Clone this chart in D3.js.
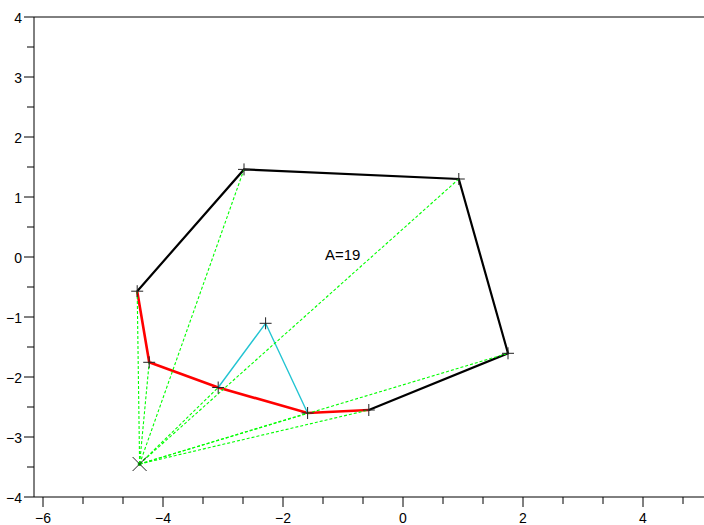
<!DOCTYPE html>
<html><head><meta charset="utf-8">
<script src="https://cdn.jsdelivr.net/npm/d3@7"></script>
<style>body{margin:0;background:#fff}svg{display:block}text{font-family:"Liberation Sans",Arial,sans-serif}</style>
</head><body>
<svg id="c" width="704" height="525"></svg>
<script>
// Data
const center = [-4.39, -3.45];
const blackX = [-4.43, -2.65, 0.93, 1.75, -0.57];
const blackY = [-0.57, 1.46, 1.30, -1.605, -2.55];
const redX = [-4.43, -4.23, -3.08, -1.59, -0.57];
const redY = [-0.57, -1.755, -2.175, -2.60, -2.55];
const cyanX = [-3.08, -2.29, -1.59];
const cyanY = [-2.175, -1.105, -2.60];
const vertX = [-4.43, -4.23, -3.08, -1.59, -0.57, 1.75, 0.93, -2.65];
const vertY = [-0.57, -1.755, -2.175, -2.60, -2.55, -1.605, 1.30, 1.46];
const xTicks = [-6, -4, -2, 0, 2, 4];
const yTicks = [-4, -3, -2, -1, 0, 1, 2, 3, 4];
const label = "A=19";
const labelPos = [-1.3, -0.05];

const svg = d3.select("#c");
const x = d3.scaleLinear().domain([-6.15, 5]).range([34, 703]);
const y = d3.scaleLinear().domain([-4, 4]).range([497, 17]);
const fmt = v => (v < 0 ? "\u2212" + Math.abs(v) : String(v));

// x minor ticks (3 subintervals)
const xMinor = [];
for (let i = 0; i < xTicks.length; i++) {
  for (let k = 1; k < 3; k++) xMinor.push(xTicks[i] + k * 2 / 3);
}
const yMinor = yTicks.slice(0, -1).map(v => v + 0.5);

const ax = svg.append("g").attr("stroke", "#000").attr("stroke-width", 1);
ax.append("line").attr("x1", x(-6.15)).attr("x2", 704).attr("y1", y(-4)).attr("y2", y(-4));
ax.append("line").attr("x1", x(-6.15)).attr("x2", 704).attr("y1", y(4)).attr("y2", y(4));
ax.append("line").attr("x1", x(-6.15)).attr("x2", x(-6.15)).attr("y1", y(4)).attr("y2", y(-4));
ax.selectAll(".xt").data(xTicks).join("line").attr("class","xt").attr("x1", d => x(d)).attr("x2", d => x(d)).attr("y1", y(-4)).attr("y2", y(-4) + 10);
ax.selectAll(".xm").data(xMinor.filter(v => v < 5)).join("line").attr("class","xm").attr("x1", d => x(d)).attr("x2", d => x(d)).attr("y1", y(-4)).attr("y2", y(-4) + 7);
ax.selectAll(".yt").data(yTicks).join("line").attr("class","yt").attr("x1", x(-6.15) - 10).attr("x2", x(-6.15)).attr("y1", d => y(d)).attr("y2", d => y(d));
ax.selectAll(".ym").data(yMinor).join("line").attr("class","ym").attr("x1", x(-6.15) - 7).attr("x2", x(-6.15)).attr("y1", d => y(d)).attr("y2", d => y(d));

svg.selectAll(".xl").data(xTicks).join("text").attr("class","xl")
  .attr("x", d => x(d)).attr("y", 523).attr("text-anchor", "middle")
  .attr("font-size", 14).attr("fill", "#000").text(fmt);
svg.selectAll(".yl").data(yTicks).join("text").attr("class","yl")
  .attr("x", x(-6.15) - 12).attr("y", d => y(d) + 6).attr("text-anchor", "end")
  .attr("font-size", 14).attr("fill", "#000").text(fmt);

const line = d3.line().x(d => x(d[0])).y(d => y(d[1]));
const zip = (a, b) => a.map((v, i) => [v, b[i]]);

svg.append("path").datum(zip(blackX, blackY)).attr("d", line).attr("fill", "none")
  .attr("stroke", "#000").attr("stroke-width", 2.2);
svg.append("path").datum(zip(redX, redY)).attr("d", line).attr("fill", "none")
  .attr("stroke", "#ff0000").attr("stroke-width", 2.6);
svg.append("path").datum(zip(cyanX, cyanY)).attr("d", line).attr("fill", "none")
  .attr("stroke", "#22c4d2").attr("stroke-width", 1.4);

svg.selectAll(".ray").data(zip(vertX, vertY)).join("line").attr("class","ray")
  .attr("x1", x(center[0])).attr("y1", y(center[1]))
  .attr("x2", d => x(d[0])).attr("y2", d => y(d[1]))
  .attr("stroke", "#00ff00").attr("stroke-width", 1.1).attr("stroke-dasharray", "3,2");
svg.append("circle").attr("cx", x(center[0])).attr("cy", y(center[1])).attr("r", 2).attr("fill", "#00dd00");

const pts = zip(vertX, vertY).concat([[cyanX[1], cyanY[1]]]);
const pm = svg.append("g").attr("stroke", "#222").attr("stroke-width", 1);
pts.forEach(p => {
  const cx = x(p[0]), cy = y(p[1]);
  pm.append("line").attr("x1", cx - 6).attr("x2", cx + 6).attr("y1", cy).attr("y2", cy);
  pm.append("line").attr("x1", cx).attr("x2", cx).attr("y1", cy - 6).attr("y2", cy + 6);
});
{
  const cx = x(center[0]), cy = y(center[1]);
  pm.append("line").attr("x1", cx - 7).attr("x2", cx + 7).attr("y1", cy - 7).attr("y2", cy + 7);
  pm.append("line").attr("x1", cx - 7).attr("x2", cx + 7).attr("y1", cy + 7).attr("y2", cy - 7);
}

svg.append("text").attr("x", x(labelPos[0])).attr("y", y(labelPos[1]))
  .attr("font-size", 15).attr("fill", "#000").text(label);
</script>
</body></html>
